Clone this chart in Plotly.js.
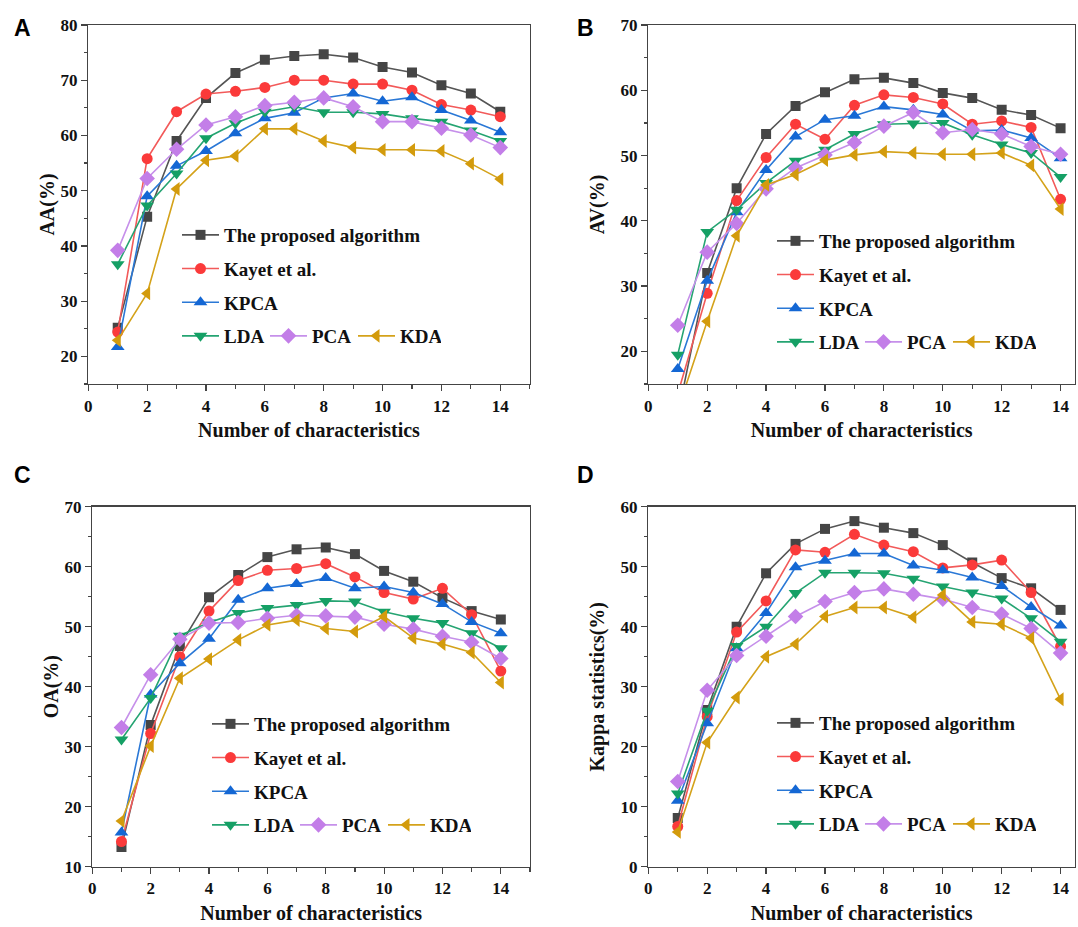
<!DOCTYPE html>
<html><head><meta charset="utf-8">
<script src="https://cdn.plot.ly/plotly-3.0.1.min.js"></script>
<style>html,body{margin:0;padding:0;background:#fff}#chart{width:1078px;height:927px}</style>
</head><body><div id="chart"></div>
<script>
// ---------- data ----------
const characteristics = [1,2,3,4,5,6,7,8,9,10,11,12,13,14];
const seriesNames = ["The proposed algorithm","Kayet et al.","KPCA","LDA","PCA","KDA"];

// Panel A: AA(%)
const A_proposed = [25.2,45.3,59.0,66.8,71.3,73.7,74.4,74.7,74.1,72.4,71.4,69.1,67.6,64.3];
const A_kayet    = [24.4,55.8,64.3,67.5,68.0,68.7,70.0,70.0,69.3,69.3,68.2,65.6,64.6,63.4];
const A_kpca     = [21.7,49.0,54.5,57.2,60.4,63.1,64.1,66.8,67.6,66.2,66.9,64.6,62.7,60.6];
const A_lda      = [36.7,47.3,53.1,59.5,62.2,64.3,65.2,64.2,64.2,63.9,63.1,62.5,60.9,59.0];
const A_pca      = [39.2,52.2,57.5,61.9,63.4,65.4,66.0,66.8,65.2,62.5,62.5,61.3,60.1,57.8];
const A_kda      = [22.9,31.4,50.3,55.5,56.3,61.2,61.2,59.0,57.8,57.4,57.4,57.2,54.9,52.1];

// Panel B: AV(%)
const B_proposed = [10.2,32.0,45.0,53.3,57.6,59.7,61.7,61.9,61.1,59.6,58.8,57.0,56.2,54.2];
const B_kayet    = [13.5,28.9,43.1,49.7,54.8,52.5,57.7,59.3,58.9,57.9,54.8,55.3,54.3,43.3];
const B_kpca     = [17.3,30.8,41.3,47.8,52.9,55.5,56.1,57.5,57.0,56.3,53.8,53.9,52.7,49.6];
const B_lda      = [19.5,38.3,41.7,45.8,49.2,50.9,53.3,54.8,54.9,55.0,53.2,51.7,50.4,46.7];
const B_pca      = [24.0,35.2,39.6,44.9,48.1,50.1,52.0,54.5,56.6,53.5,54.0,53.3,51.4,50.2];
const B_kda      = [11.0,24.6,37.7,45.5,47.1,49.3,50.1,50.6,50.4,50.2,50.2,50.4,48.5,41.8];

// Panel C: OA(%)
const C_proposed = [13.3,33.6,46.8,54.9,58.6,61.6,62.9,63.2,62.1,59.3,57.5,54.8,52.6,51.2];
const C_kayet    = [14.2,32.2,45.0,52.6,57.7,59.4,59.7,60.5,58.3,55.7,54.6,56.4,52.0,42.6];
const C_kpca     = [15.7,38.7,43.9,48.0,54.5,56.4,57.1,58.1,56.4,56.7,55.7,53.8,50.8,48.9];
const C_lda      = [31.2,38.1,48.5,50.7,52.3,53.1,53.6,54.3,54.2,52.5,51.4,50.6,48.9,46.4];
const C_pca      = [33.2,42.0,47.9,50.6,50.7,51.4,51.9,51.8,51.6,50.4,49.6,48.4,47.4,44.7];
const C_kda      = [17.6,30.1,41.4,44.6,47.8,50.3,51.1,49.7,49.2,51.7,48.1,47.1,45.7,40.7];

// Panel D: Kappa statistics(%)
const D_proposed = [8.1,26.1,40.0,48.9,53.8,56.3,57.6,56.5,55.6,53.6,50.7,48.1,46.4,42.8];
const D_kayet    = [6.7,25.0,39.1,44.3,52.8,52.4,55.4,53.6,52.5,49.8,50.3,51.1,45.7,36.7];
const D_kpca     = [11.0,23.9,36.4,42.3,49.9,51.0,52.2,52.2,50.2,49.4,48.2,46.8,43.3,40.2];
const D_lda      = [12.2,26.0,36.8,40.0,45.6,49.0,49.0,48.9,48.0,46.7,45.7,44.7,41.4,37.5];
const D_pca      = [14.2,29.4,35.2,38.4,41.7,44.2,45.7,46.3,45.4,44.6,43.2,42.1,39.7,35.6];
const D_kda      = [5.8,20.7,28.2,35.0,37.1,41.7,43.2,43.2,41.6,45.3,40.8,40.4,38.1,27.9];

const panelLetters = ["A","B","C","D"];
const yTitles = ["AA(%)","AV(%)","OA(%)","Kappa statistics(%)"];
const xTitle = "Number of characteristics";
const xTickVals = [0,2,4,6,8,10,12,14];

// ---------- layout / style ----------
const W = 1078, H = 927;
const px = v => v / W;
const py = v => 1 - v / H;

const panelData = [
  [A_proposed,A_kayet,A_kpca,A_lda,A_pca,A_kda],
  [B_proposed,B_kayet,B_kpca,B_lda,B_pca,B_kda],
  [C_proposed,C_kayet,C_kpca,C_lda,C_pca,C_kda],
  [D_proposed,D_kayet,D_kpca,D_lda,D_pca,D_kda]
];
const panelBox = [
  {l:88.3, r:529.7, t:25, b:384, xmax:15, ymin:15, ymax:80, letter:[22,28], leg:[177,216], ystand:0},
  {l:648.3, r:1075, t:25, b:384, xmax:14.49, ymin:15, ymax:70, letter:[585,28], leg:[772,222], ystand:10},
  {l:92.3, r:530, t:506.7, b:866.7, xmax:15, ymin:10, ymax:70, letter:[22,475], leg:[207,705], ystand:0},
  {l:648.3, r:1075, t:506.7, b:866.7, xmax:14.49, ymin:0, ymax:60, letter:[585,475], leg:[772,704], ystand:10}
];
const styles = [
  {line:'#555555', marker:'#454545', symbol:'square', size:10},
  {line:'#f25a5a', marker:'#fb3a3a', symbol:'circle', size:11},
  {line:'#2a78d6', marker:'#1467d4', symbol:'triangle-up', size:12},
  {line:'#25a472', marker:'#15a065', symbol:'triangle-down', size:12},
  {line:'#c690ea', marker:'#c37ee8', symbol:'diamond', size:12},
  {line:'#d4a21a', marker:'#d39b0c', symbol:'triangle-left', size:12}
];
const serif = "'Liberation Serif', 'Times New Roman', serif";
const tickFont = {family: serif, size: 17, color:'#111', weight:'bold'};
const titleFont = {family: serif, size: 20, color:'#111', weight:'bold'};
const legFont = {family: serif, size: 19, color:'#111', weight:'bold'};

const traces = [];
const layout = {
  width: W, height: H, margin:{l:0,r:0,t:0,b:0},
  paper_bgcolor:'#fff', plot_bgcolor:'#fff', showlegend:true,
  annotations: []
};

panelData.forEach((series, p) => {
  const box = panelBox[p];
  const xa = p === 0 ? 'xaxis' : 'xaxis' + (p+1);
  const ya = p === 0 ? 'yaxis' : 'yaxis' + (p+1);
  const xr = p === 0 ? 'x' : 'x' + (p+1);
  const yr = p === 0 ? 'y' : 'y' + (p+1);
  const legV = p === 0 ? 'legend' : 'legend' + (2*p+1);
  const legH = 'legend' + (2*p+2);
  series.forEach((vals, s) => {
    const st = styles[s];
    traces.push({
      type:'scatter', mode:'lines+markers', x: characteristics, y: vals,
      name: seriesNames[s], xaxis: xr, yaxis: yr,
      legend: s < 3 ? legV : legH, legendgroup: 'p'+p+'s'+s,
      line:{color: st.line, width:1.6},
      marker:{color: st.marker, symbol: st.symbol, size: st.size, line:{width:0}},
      cliponaxis: true
    });
  });
  const axisCommon = {
    showline:true, linecolor:'#444', linewidth:1.3, mirror:true,
    ticks:'outside', ticklen:6, tickwidth:1.2, tickcolor:'#444',
    showgrid:false, zeroline:false, tickfont: tickFont, fixedrange:true
  };
  layout[xa] = Object.assign({}, axisCommon, {
    domain:[px(box.l), px(box.r)], anchor: yr, range:[0, box.xmax],
    tickvals: xTickVals,
    minor:{dtick:1, tick0:0, ticks:'outside', ticklen:3.5, tickcolor:'#444'},
    title:{text: xTitle, font: titleFont, standoff: 8}
  });
  layout[ya] = Object.assign({}, axisCommon, {
    domain:[py(box.b), py(box.t)], anchor: xr, range:[box.ymin, box.ymax],
    dtick:10, tick0:0,
    minor:{dtick:5, tick0:0, ticks:'outside', ticklen:3.5, tickcolor:'#444'},
    title:{text: yTitles[p], font: titleFont, standoff: box.ystand}
  });
  layout[legV] = {
    x: px(box.leg[0]), y: py(box.leg[1]), xanchor:'left', yanchor:'top',
    orientation:'v', font: legFont, bgcolor:'rgba(0,0,0,0)', borderwidth:0,
    itemwidth: 37, tracegroupgap: 6, traceorder:'grouped', itemclick:false, itemdoubleclick:false
  };
  layout[legH] = {
    x: px(box.leg[0]), y: py(box.leg[1] + 101), xanchor:'left', yanchor:'top',
    orientation:'h', font: legFont, bgcolor:'rgba(0,0,0,0)', borderwidth:0,
    itemwidth: 37, entrywidth: 36, entrywidthmode:'pixels', itemclick:false, itemdoubleclick:false
  };
  layout.annotations.push({
    text: panelLetters[p], xref:'paper', yref:'paper', x: px(box.letter[0]), y: py(box.letter[1]),
    xanchor:'center', yanchor:'middle', showarrow:false,
    font:{family:"'Liberation Sans', Arial, sans-serif", size:23, color:'#000', weight:'bold'}
  });
});

Plotly.newPlot('chart', traces, layout, {staticPlot:true, displayModeBar:false});
</script>
</body></html>
